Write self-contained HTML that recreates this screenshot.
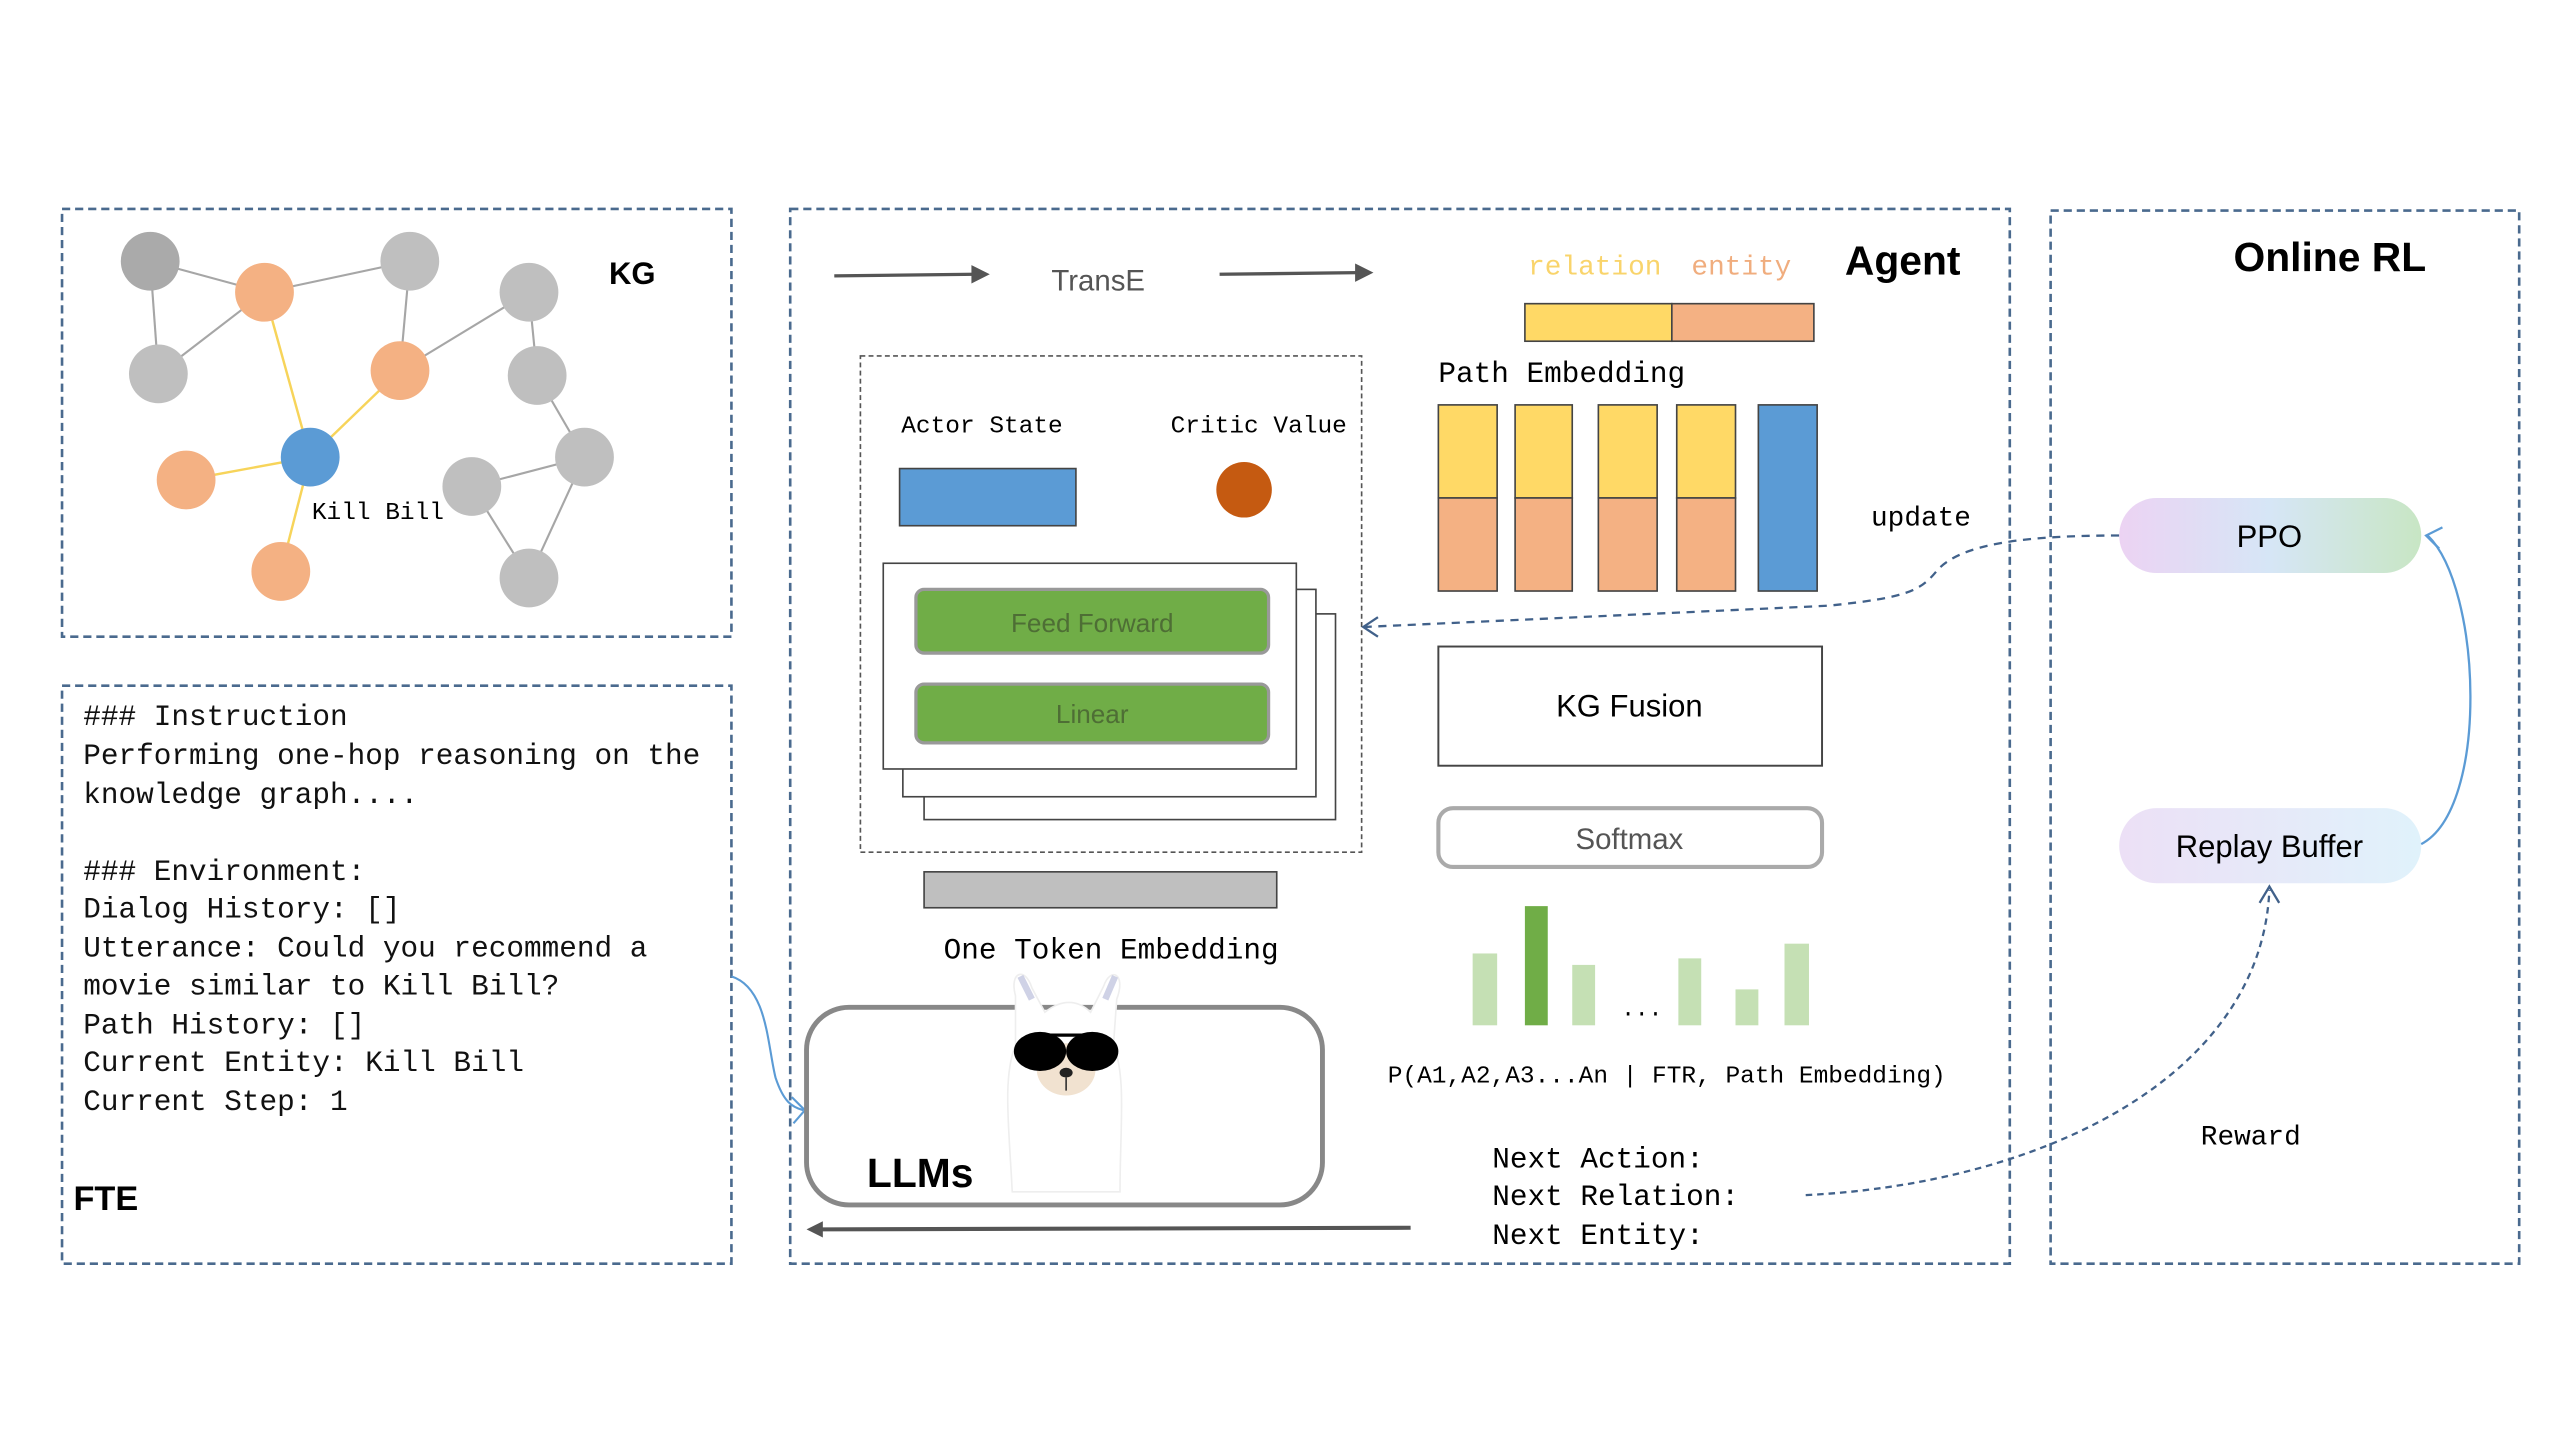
<!DOCTYPE html>
<html><head><meta charset="utf-8"><style>html,body{margin:0;padding:0;background:#fff;width:2560px;height:1440px;overflow:hidden}</style></head>
<body>
<svg width="2560" height="1440" viewBox="0 0 1568 882" xmlns="http://www.w3.org/2000/svg">
<defs>
<linearGradient id="ppo" x1="0" x2="1" y1="0" y2="0"><stop offset="0" stop-color="#ecd3f3"/><stop offset="0.5" stop-color="#d6e6f6"/><stop offset="1" stop-color="#c8e6c4"/></linearGradient>
<linearGradient id="rb" x1="0" x2="1" y1="0" y2="0"><stop offset="0" stop-color="#ece0f6"/><stop offset="1" stop-color="#e0f2fb"/></linearGradient>
</defs>
<g fill="none" stroke="#4a6a8e" stroke-width="1.6" stroke-dasharray="5,3">
<rect x="38" y="128" width="410" height="262"/>
<rect x="38" y="420" width="410" height="354"/>
<rect x="484" y="128" width="747" height="646"/>
<rect x="1256" y="129" width="287" height="645"/>
</g>
<!-- KG -->
<g stroke="#a6a6a6" stroke-width="1.3">
<line x1="92" y1="160" x2="162" y2="179"/><line x1="92" y1="160" x2="97" y2="229"/><line x1="97" y1="229" x2="162" y2="179"/><line x1="162" y1="179" x2="251" y2="160"/><line x1="251" y1="160" x2="245" y2="227"/><line x1="245" y1="227" x2="324" y2="179"/><line x1="324" y1="179" x2="329" y2="230"/><line x1="329" y1="230" x2="358" y2="280"/><line x1="358" y1="280" x2="289" y2="298"/><line x1="289" y1="298" x2="324" y2="354"/><line x1="358" y1="280" x2="324" y2="354"/>
</g>
<g stroke="#f7d45a" stroke-width="1.5">
<line x1="162" y1="179" x2="190" y2="280"/><line x1="245" y1="227" x2="190" y2="280"/><line x1="114" y1="294" x2="190" y2="280"/><line x1="190" y1="280" x2="172" y2="350"/>
</g>
<g>
<ellipse cx="92" cy="160" rx="18" ry="18" fill="#aaaaaa"/>
<ellipse cx="162" cy="179" rx="18" ry="18" fill="#f4b183"/>
<ellipse cx="251" cy="160" rx="18" ry="18" fill="#bfbfbf"/>
<ellipse cx="324" cy="179" rx="18" ry="18" fill="#bfbfbf"/>
<ellipse cx="97" cy="229" rx="18" ry="18" fill="#bfbfbf"/>
<ellipse cx="245" cy="227" rx="18" ry="18" fill="#f4b183"/>
<ellipse cx="329" cy="230" rx="18" ry="18" fill="#bfbfbf"/>
<ellipse cx="190" cy="280" rx="18" ry="18" fill="#5b9bd5"/>
<ellipse cx="114" cy="294" rx="18" ry="18" fill="#f4b183"/>
<ellipse cx="358" cy="280" rx="18" ry="18" fill="#bfbfbf"/>
<ellipse cx="289" cy="298" rx="18" ry="18" fill="#bfbfbf"/>
<ellipse cx="172" cy="350" rx="18" ry="18" fill="#f4b183"/>
<ellipse cx="324" cy="354" rx="18" ry="18" fill="#bfbfbf"/>
</g>
<text x="191" y="318" font-family="Liberation Mono, monospace" font-size="15">Kill Bill</text>
<text x="373" y="174" font-family="Liberation Sans, sans-serif" font-weight="bold" font-size="19">KG</text>
<!-- FTE -->
<g font-family="Liberation Mono, monospace" font-size="18" fill="#111">
<text x="51" y="444">### Instruction</text>
<text x="51" y="468">Performing one-hop reasoning on the</text>
<text x="51" y="492">knowledge graph....</text>
<text x="51" y="539">### Environment:</text>
<text x="51" y="562">Dialog History: []</text>
<text x="51" y="586">Utterance: Could you recommend a</text>
<text x="51" y="609">movie similar to Kill Bill?</text>
<text x="51" y="633">Path History: []</text>
<text x="51" y="656">Current Entity: Kill Bill</text>
<text x="51" y="680">Current Step: 1</text>
</g>
<text x="45" y="741" font-family="Liberation Sans, sans-serif" font-weight="bold" font-size="21">FTE</text>
<path d="M448,598 C470,605 470,640 475,660 C480,675 485,678 492,680" fill="none" stroke="#5b9bd5" stroke-width="1.3"/>
<path d="M485,672 L493,680 L486,688" fill="none" stroke="#5b9bd5" stroke-width="1.3"/>
<!-- Agent top -->
<g stroke="#555" stroke-width="2" fill="#555">
<line x1="511" y1="169" x2="597" y2="168"/><path d="M596,164 L604,168 L596,172Z"/>
<line x1="747" y1="168" x2="832" y2="167"/><path d="M831,163 L839,167 L831,171Z"/>
</g>
<text x="644" y="178" font-family="Liberation Sans, sans-serif" font-size="18" fill="#555">TransE</text>
<text x="936" y="168" font-family="Liberation Mono, monospace" font-size="17" fill="#f9d46b">relation</text>
<text x="1036" y="168" font-family="Liberation Mono, monospace" font-size="17" fill="#f0ad7e">entity</text>
<text x="1130" y="168" font-family="Liberation Sans, sans-serif" font-weight="bold" font-size="25">Agent</text>
<rect x="934" y="186" width="90" height="23" fill="#ffd966" stroke="#444" stroke-width="1"/>
<rect x="1024" y="186" width="87" height="23" fill="#f4b183" stroke="#444" stroke-width="1"/>
<text x="881" y="234" font-family="Liberation Mono, monospace" font-size="18">Path Embedding</text>
<g stroke="#444" stroke-width="1">
<rect x="881" y="248" width="36" height="57" fill="#ffd966"/><rect x="881" y="305" width="36" height="57" fill="#f4b183"/>
<rect x="928" y="248" width="35" height="57" fill="#ffd966"/><rect x="928" y="305" width="35" height="57" fill="#f4b183"/>
<rect x="979" y="248" width="36" height="57" fill="#ffd966"/><rect x="979" y="305" width="36" height="57" fill="#f4b183"/>
<rect x="1027" y="248" width="36" height="57" fill="#ffd966"/><rect x="1027" y="305" width="36" height="57" fill="#f4b183"/>
<rect x="1077" y="248" width="36" height="114" fill="#5b9bd5"/>
</g>
<text x="1146" y="322" font-family="Liberation Mono, monospace" font-size="17">update</text>
<!-- inner dashed -->
<rect x="527" y="218" width="307" height="304" fill="none" stroke="#555" stroke-width="1" stroke-dasharray="3,2"/>
<text x="552" y="265" font-family="Liberation Mono, monospace" font-size="15">Actor State</text>
<text x="717" y="265" font-family="Liberation Mono, monospace" font-size="15">Critic Value</text>
<rect x="551" y="287" width="108" height="35" fill="#5b9bd5" stroke="#444" stroke-width="1"/>
<circle cx="762" cy="300" r="17" fill="#c55a11"/>
<g fill="#fff" stroke="#444" stroke-width="1">
<rect x="566" y="376" width="252" height="126"/>
<rect x="553" y="361" width="253" height="127"/>
<rect x="541" y="345" width="253" height="126"/>
</g>
<rect x="561" y="361" width="216" height="39" rx="5" fill="#70ad47" stroke="#999" stroke-width="2"/>
<rect x="561" y="419" width="216" height="36" rx="5" fill="#70ad47" stroke="#999" stroke-width="2"/>
<text x="669" y="387" text-anchor="middle" font-family="Liberation Sans, sans-serif" font-size="16" fill="#4e6e35">Feed Forward</text>
<text x="669" y="443" text-anchor="middle" font-family="Liberation Sans, sans-serif" font-size="16" fill="#4e6e35">Linear</text>
<rect x="566" y="534" width="216" height="22" fill="#bfbfbf" stroke="#444" stroke-width="1"/>
<text x="578" y="587" font-family="Liberation Mono, monospace" font-size="18">One Token Embedding</text>
<!-- LLMs -->
<rect x="494" y="617" width="316" height="121" rx="26" fill="#fff" stroke="#888" stroke-width="3"/>
<g>
<path d="M622,610 C618,595 628,592 632,605 L640,620 C650,612 660,612 668,620 L676,604 C680,592 690,596 684,612 L682,640 C690,660 686,690 686,730 L620,730 C618,690 614,660 622,640Z" fill="#fff" stroke="#eee" stroke-width="1"/>
<path d="M625,598 L632,612" stroke="#cfd2e6" stroke-width="4"/><path d="M683,598 L677,612" stroke="#cfd2e6" stroke-width="4"/>
<ellipse cx="653" cy="655" rx="18" ry="16" fill="#f1e2d0"/>
<ellipse cx="637" cy="644" rx="16" ry="12" fill="#000"/>
<ellipse cx="669" cy="644" rx="16" ry="12" fill="#000"/>
<line x1="637" y1="634" x2="669" y2="634" stroke="#000" stroke-width="2"/>
<ellipse cx="653" cy="657" rx="4" ry="3" fill="#222"/>
<line x1="653" y1="660" x2="653" y2="668" stroke="#333"/>
</g>
<text x="531" y="727" font-family="Liberation Sans, sans-serif" font-weight="bold" font-size="25">LLMs</text>
<line x1="864" y1="752" x2="503" y2="753" stroke="#555" stroke-width="2.5"/>
<path d="M504,748 L494,753 L504,758Z" fill="#555"/>
<!-- right column -->
<rect x="881" y="396" width="235" height="73" fill="#fff" stroke="#444" stroke-width="1.2"/>
<text x="998" y="439" text-anchor="middle" font-family="Liberation Sans, sans-serif" font-size="19">KG Fusion</text>
<rect x="881" y="495" width="235" height="36" rx="9" fill="#fff" stroke="#aaa" stroke-width="2.5"/>
<text x="998" y="520" text-anchor="middle" font-family="Liberation Sans, sans-serif" font-size="18" fill="#555">Softmax</text>
<g fill="#c5e0b4">
<rect x="902" y="584" width="15" height="44"/>
<rect x="934" y="555" width="14" height="73" fill="#70ad47"/>
<rect x="963" y="591" width="14" height="37"/>
<rect x="1028" y="587" width="14" height="41"/>
<rect x="1063" y="606" width="14" height="22"/>
<rect x="1093" y="578" width="15" height="50"/>
</g>
<text x="993" y="622" font-family="Liberation Mono, monospace" font-size="14">...</text>
<text x="850" y="663" font-family="Liberation Mono, monospace" font-size="15">P(A1,A2,A3...An | FTR, Path Embedding)</text>
<g font-family="Liberation Mono, monospace" font-size="18">
<text x="914" y="715">Next Action:</text>
<text x="914" y="738">Next Relation:</text>
<text x="914" y="762">Next Entity:</text>
</g>
<!-- dashed connectors -->
<path d="M1298,328 C1240,328 1200,333 1186,350 C1176,362 1168,366 1120,371 L836,384" fill="none" stroke="#41618a" stroke-width="1.4" stroke-dasharray="5,4"/>
<path d="M844,378 L835,384 L844,390" fill="none" stroke="#41618a" stroke-width="1.4"/>
<path d="M1106,732 C1250,725 1385,660 1390,545" fill="none" stroke="#41618a" stroke-width="1.4" stroke-dasharray="4,3"/>
<path d="M1384,553 L1390,543 L1396,553" fill="none" stroke="#41618a" stroke-width="1.4"/>
<!-- Online RL -->
<text x="1368" y="166" font-family="Liberation Sans, sans-serif" font-weight="bold" font-size="25">Online RL</text>
<rect x="1298" y="305" width="185" height="46" rx="23" fill="url(#ppo)"/>
<text x="1390" y="335" text-anchor="middle" font-family="Liberation Sans, sans-serif" font-size="19">PPO</text>
<rect x="1298" y="495" width="185" height="46" rx="23" fill="url(#rb)"/>
<text x="1390" y="525" text-anchor="middle" font-family="Liberation Sans, sans-serif" font-size="19">Replay Buffer</text>
<path d="M1483,517 C1525,495 1520,360 1487,328" fill="none" stroke="#5b9bd5" stroke-width="1.4"/>
<path d="M1496,323 L1486,328 L1494,336" fill="none" stroke="#5b9bd5" stroke-width="1.4"/>
<text x="1348" y="701" font-family="Liberation Mono, monospace" font-size="17">Reward</text>
</svg>
</body></html>
